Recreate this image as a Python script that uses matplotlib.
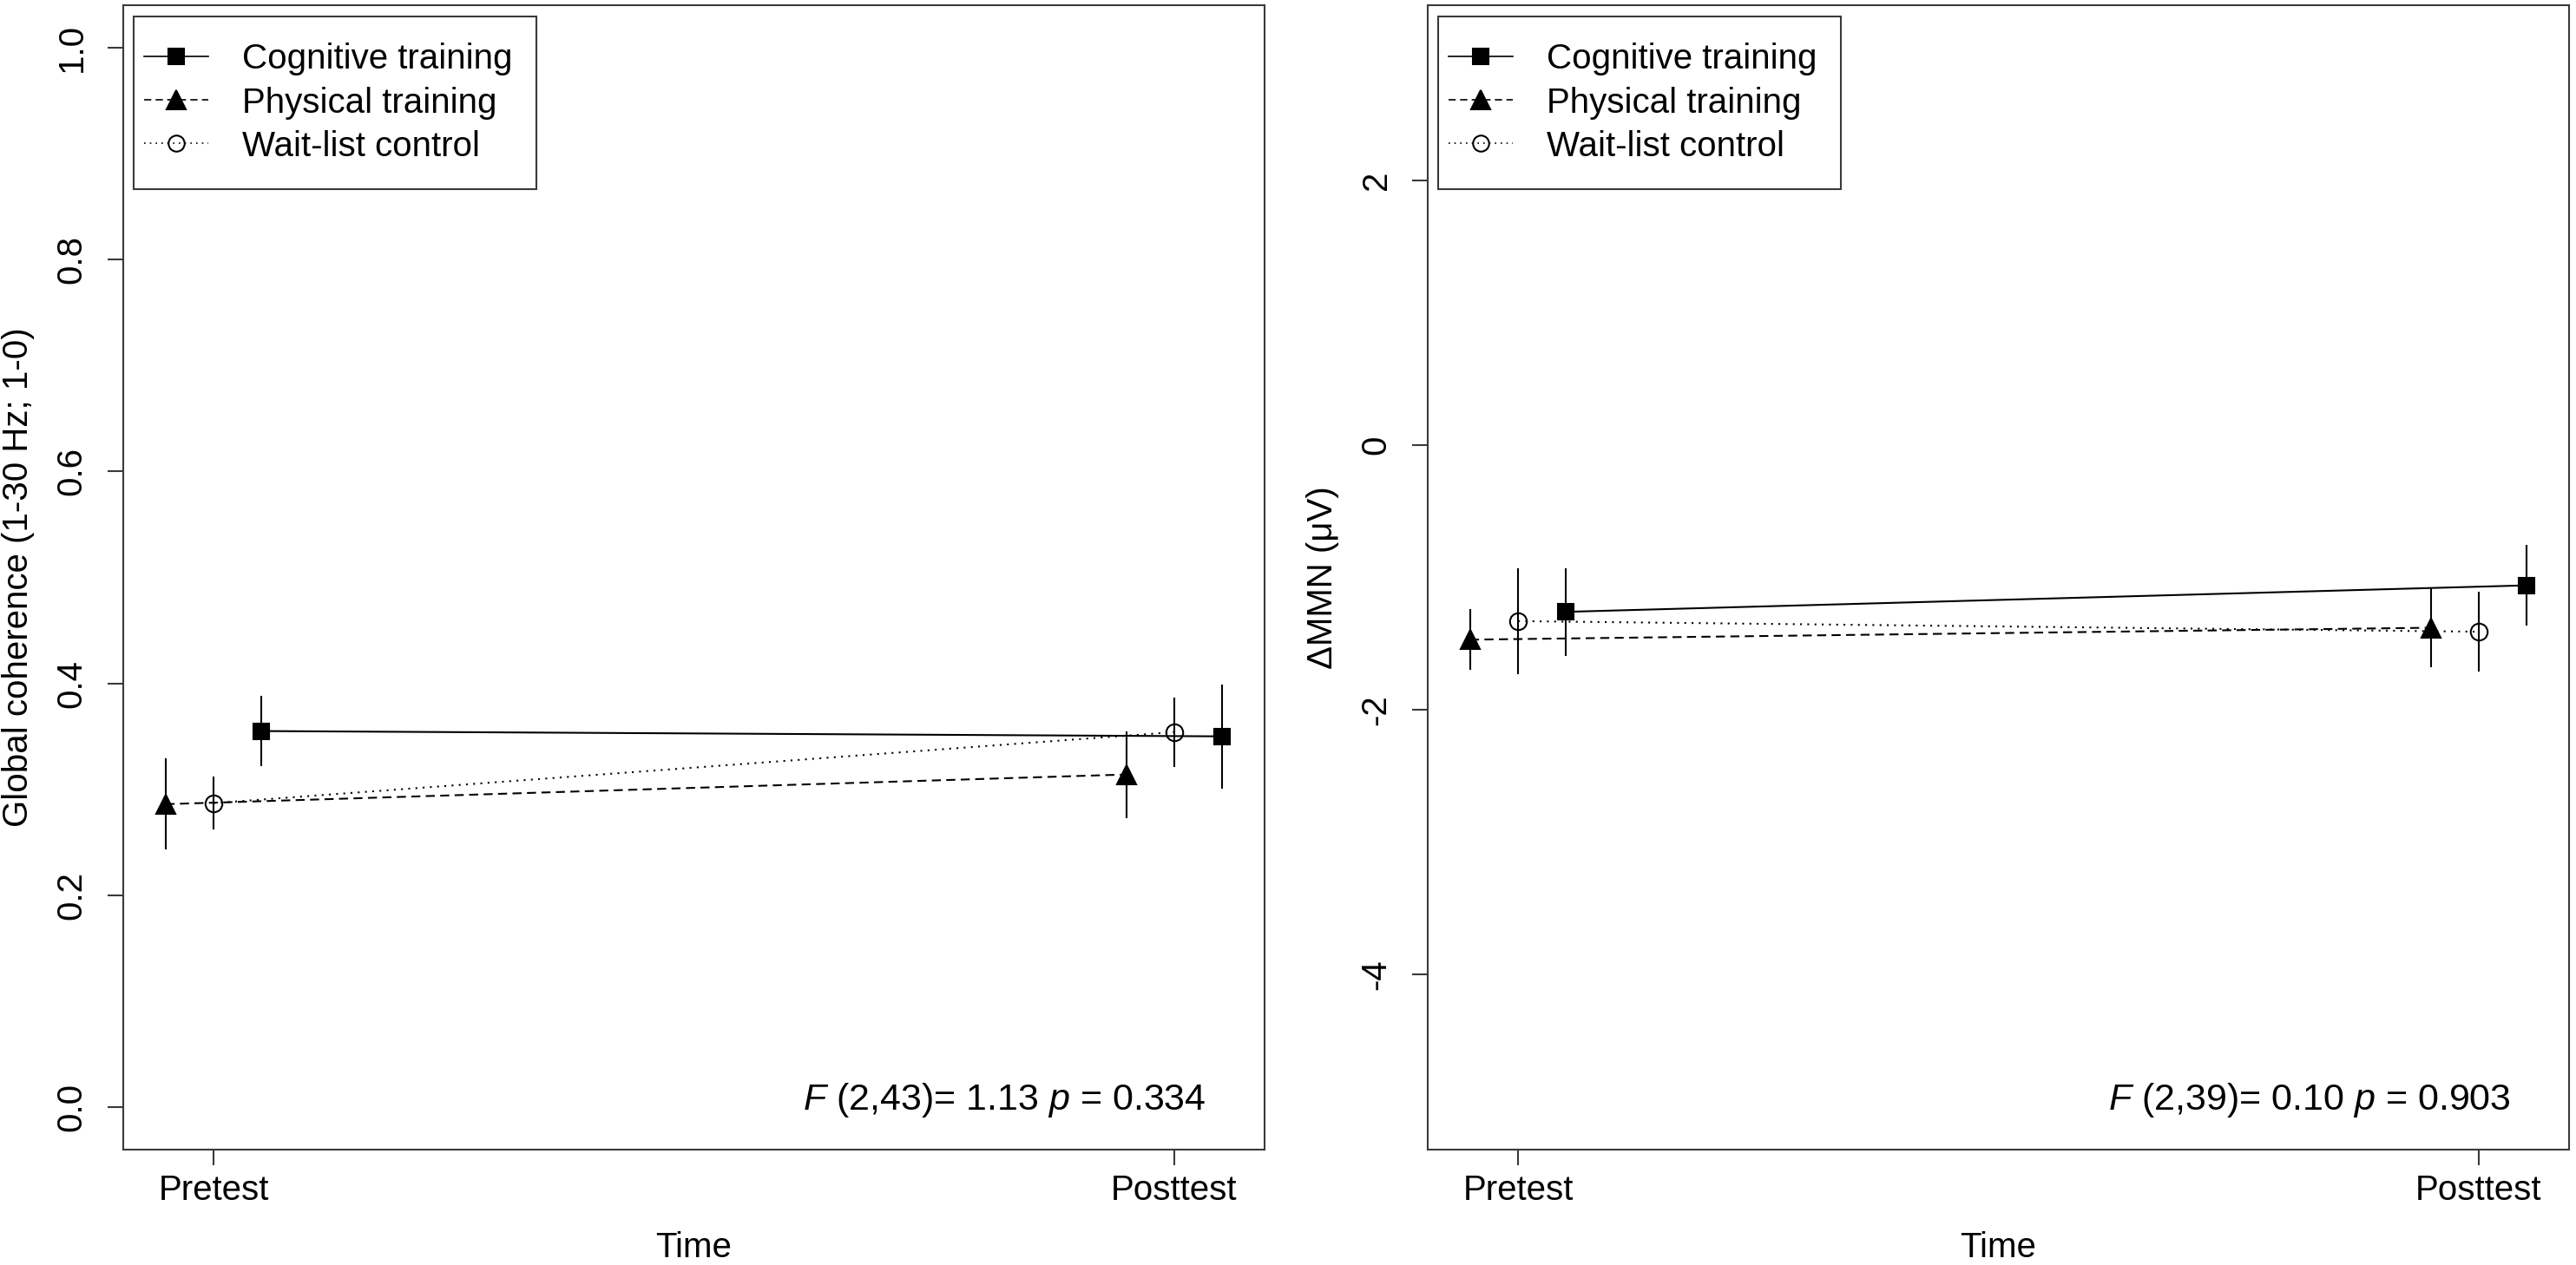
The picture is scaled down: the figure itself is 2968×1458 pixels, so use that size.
import matplotlib
matplotlib.use('Agg')
import matplotlib.pyplot as plt
from matplotlib.patches import Rectangle

plt.rcParams['font.family'] = ['Liberation Sans', 'DejaVu Sans']
plt.rcParams['mathtext.fontset'] = 'custom'
plt.rcParams['mathtext.rm'] = 'Liberation Sans'
plt.rcParams['mathtext.it'] = 'Liberation Sans:italic'
plt.rcParams['axes.unicode_minus'] = False

groups = ['Cognitive training', 'Physical training', 'Wait-list control']
times = ['Pretest', 'Posttest']

# global coherence (1-30 Hz; 1-0), mean and error bar half-width
coh_cog = [0.355, 0.350]
coh_cog_err = [0.033, 0.049]
coh_phys = [0.286, 0.314]
coh_phys_err = [0.043, 0.041]
coh_wait = [0.287, 0.354]
coh_wait_err = [0.025, 0.033]

# delta MMN (uV)
mmn_cog = [-1.26, -1.06]
mmn_cog_err = [0.33, 0.305]
mmn_phys = [-1.47, -1.38]
mmn_phys_err = [0.23, 0.30]
mmn_wait = [-1.33, -1.41]
mmn_wait_err = [0.40, 0.30]

coh_stats = r'$\mathit{F}$ (2,43)= 1.13 $\mathit{p}$ = 0.334'
mmn_stats = r'$\mathit{F}$ (2,39)= 0.10 $\mathit{p}$ = 0.903'

FS = 29
LW = 1.5
EDGE = '#3a3a3a'
dodge = [0.05, -0.05, 0.0]
styles = [
    dict(ls='-', marker='s', ms=13.5, mfc='black', mec='black'),
    dict(ls=(0, (5, 3)), marker='^', ms=16, mfc='black', mec='black'),
    dict(ls=(0, (1, 3)), marker='o', ms=14, mfc='none', mec='black'),
]

fig = plt.figure(figsize=(29.68, 14.58), dpi=100)
ax1 = fig.add_axes([142 / 2968, 133 / 1458, 1315 / 2968, 1319 / 1458])
ax2 = fig.add_axes([1645 / 2968, 133 / 1458, 1315 / 2968, 1319 / 1458])


def draw(ax, means, errs, ylim, yticks, yfmt, ylabel, stats):
    x = [1, 2]
    for (m, e), d, st in zip(zip(means, errs), dodge, styles):
        xs = [xi + d for xi in x]
        ax.plot(xs, m, color='black', lw=LW, ls=st['ls'], zorder=2)
        ax.vlines(xs, [mi - ei for mi, ei in zip(m, e)], [mi + ei for mi, ei in zip(m, e)],
                  color='black', lw=LW, zorder=3)
        ax.plot(xs, m, ls='none', marker=st['marker'], ms=st['ms'], mfc=st['mfc'],
                mec=st['mec'], mew=LW, zorder=4)

    # legend, boxed like R's legend()
    handles = [plt.Line2D([], [], color='black', lw=1.2, ls=st['ls'], marker=st['marker'],
                          ms=st['ms'] * 0.95, mfc=st['mfc'], mec=st['mec'], mew=LW)
               for st in styles]
    ax.legend(handles, groups, loc='center left', bbox_to_anchor=(0.0182, 0.9147),
              borderaxespad=0, borderpad=0, fontsize=FS, frameon=False,
              handlelength=1.85, handletextpad=0.95, labelspacing=0.3)
    ax.add_patch(Rectangle((0.0091, 0.839), 0.353, 0.151, transform=ax.transAxes,
                           fill=False, lw=LW, ec=EDGE, zorder=5))

    ax.set_xlim(0.906, 2.094)
    ax.set_ylim(*ylim)
    ax.set_xticks(x)
    ax.set_xticklabels(times)
    ax.set_yticks(yticks)
    ax.set_yticklabels([yfmt.format(t) for t in yticks], rotation=90, va='center')
    ax.tick_params(direction='out', length=13, width=LW, color=EDGE, labelsize=FS, pad=16)
    ax.tick_params(axis='x', pad=7)
    for s in ax.spines.values():
        s.set_linewidth(LW)
        s.set_color(EDGE)
    ax.set_ylabel(ylabel, fontsize=FS, va='center')
    ax.yaxis.set_label_coords(-0.092, 0.5)
    ax.set_xlabel('Time', fontsize=FS, va='center')
    ax.xaxis.set_label_coords(0.5, -0.086)
    ax.text(0.949, 0.035, stats, transform=ax.transAxes, ha='right', va='baseline',
            fontsize=31)


draw(ax1, [coh_cog, coh_phys, coh_wait], [coh_cog_err, coh_phys_err, coh_wait_err],
     (-0.04, 1.04), [0.0, 0.2, 0.4, 0.6, 0.8, 1.0], '{:.1f}',
     'Global coherence (1-30 Hz; 1-0)', coh_stats)
draw(ax2, [mmn_cog, mmn_phys, mmn_wait], [mmn_cog_err, mmn_phys_err, mmn_wait_err],
     (-5.32, 3.32), [-4, -2, 0, 2], '{:d}',
     'ΔMMN (μV)', mmn_stats)

fig.savefig('out.png', dpi=100)
